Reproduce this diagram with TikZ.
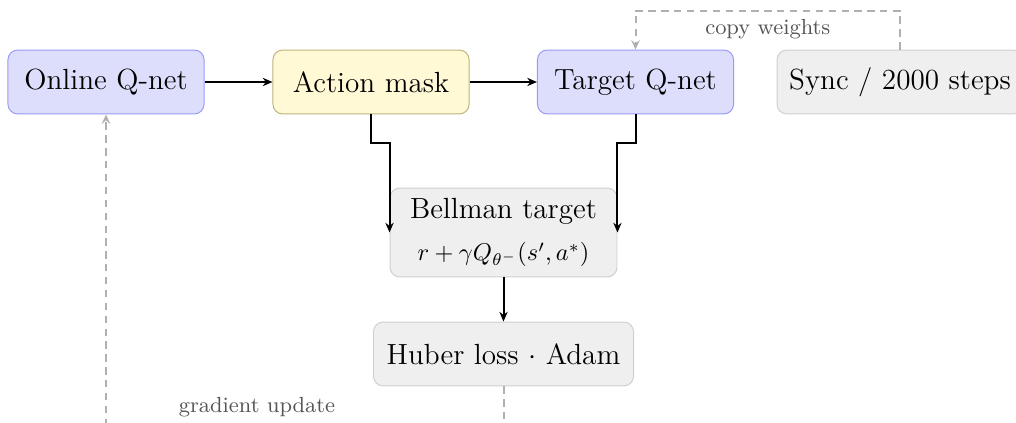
\documentclass[tikz,border=0pt]{standalone}
\usetikzlibrary{arrows.meta}

\definecolor{qfill}{HTML}{DDDDFC}
\definecolor{qdraw}{HTML}{9A9AF5}
\definecolor{mfill}{HTML}{FFF9D6}
\definecolor{mdraw}{HTML}{BDB37A}
\definecolor{gfill}{HTML}{EFEFEF}
\definecolor{gdraw}{HTML}{CFCFCF}
\definecolor{dashc}{HTML}{B0B0B0}
\definecolor{lblc}{HTML}{555555}

\begin{document}
\begin{tikzpicture}[x=0.4115pt, y=-0.4115pt,
  box/.style={rounded corners=4pt, line width=0.4pt, font=\large, inner sep=0pt,
    minimum height=26.3pt, align=center},
  qnet/.style={box, fill=qfill, draw=qdraw, minimum width=80.7pt},
  maskbox/.style={box, fill=mfill, draw=mdraw, minimum width=80.7pt},
  plain/.style={box, fill=gfill, draw=gdraw},
  flow/.style={line width=0.82pt, -{Stealth[length=4pt,width=3.4pt]}},
  feedback/.style={draw=dashc, line width=0.82pt, dash pattern=on 3pt off 2.3pt,
    -{Stealth[length=4pt,width=3.6pt,inset=1.6pt]}},
  note/.style={font=\small, text=lblc, inner sep=3.33pt}
]
\clip (0,0) rectangle (1016,423);

% nodes
\node[qnet]    (online) at (106,82)   {Online Q-net};
\node[maskbox] (mask)   at (371,82)   {Action mask};
\node[qnet]    (target) at (635.5,82) {Target Q-net};
\node[plain, minimum width=101.2pt] (sync) at (900,82) {Sync / 2000 steps};
\node[plain, minimum width=93.4pt, minimum height=36.6pt] (bellman) at (503.5,232.5)
  {Bellman target\\[3.5pt]\normalsize$r+\gamma Q_{\theta^-}(s',a^*)$};
\node[plain, minimum width=107pt] (huber) at (503.5,354) {Huber loss $\cdot$ Adam};

% forward flow
\draw[flow] (online.east) -- (mask.west);
\draw[flow] (mask.east) -- (target.west);
\draw[flow] (mask.south) -- ++(0,29) -| (bellman.west);
\draw[flow] (target.south) -- ++(0,29) -| (bellman.east);
\draw[flow] (bellman.south) -- (huber.north);

% feedback paths
\draw[feedback] (sync.north) -- ++(0,-39)
  -| node[note, pos=0.25, below] {copy weights} (target.north);
\draw[feedback] (huber.south) -- ++(0,40)
  -| node[note, pos=0.31, above] {gradient update} (online.south);
\end{tikzpicture}
\end{document}
